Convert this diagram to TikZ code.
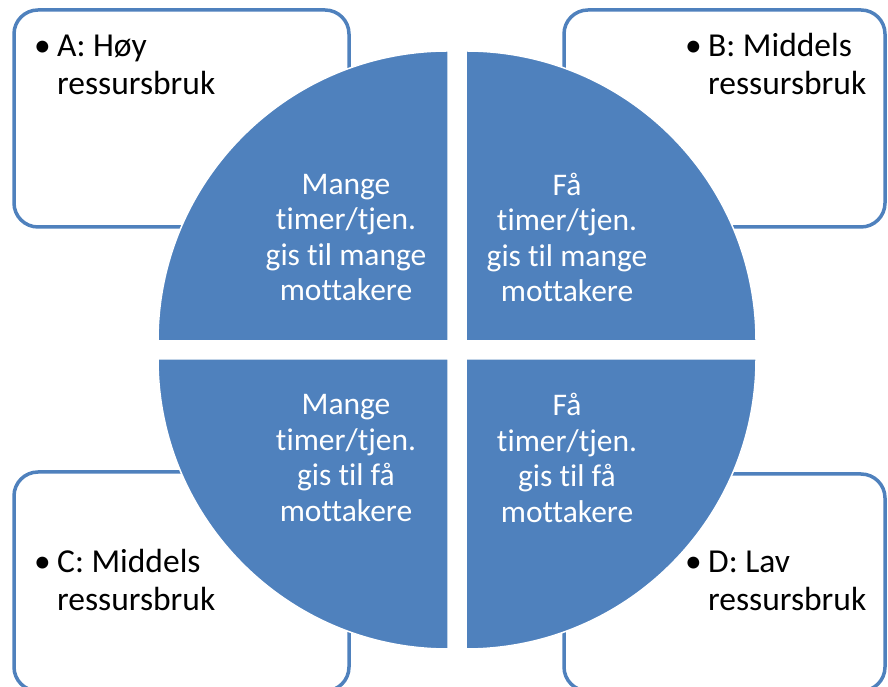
\documentclass[tikz,border=0pt]{standalone}
\usepackage{fontspec}
\setmainfont{Carlito}[Ligatures=NoCommon]
\definecolor{quadblue}{HTML}{4F81BD}
\tikzset{
    quad/.style={fill=quadblue, draw=white, line width=1.5pt},
    infobox/.style={draw=quadblue, line width=3.5pt, rounded corners=24pt, fill=white},
    quadtext/.style={text=white, align=center, inner sep=0pt, font=\fontsize{31.5}{35.5}\selectfont},
    boxtext/.style={anchor=base west, inner sep=0pt, font=\fontsize{33.5}{38}\selectfont}
}
\newcommand{\bulletline}[2]{\begin{tabular}[t]{@{}l@{}l@{}}\makebox[23pt][l]{\textbullet} & #1\\ & #2\end{tabular}}
\begin{document}
\begin{tikzpicture}[x=1pt, y=1pt]
        \useasboundingbox (0, 0) rectangle (888, 687);
        \clip (0, 0) rectangle (888, 687);

        % corner boxes
        \draw[infobox] (14, 677) rectangle (349, 460);
        \draw[infobox] (564, 677) rectangle (885, 460);
        \draw[infobox] (14, 215) rectangle (349, -4);
        \draw[infobox] (564, 213) rectangle (885, -4);

        \node[boxtext] at (34, 630)  (txtA)    {\bulletline{A: Høy}{ressursbruk}};
        \node[boxtext] at (685, 630) (txtB)    {\bulletline{B: Middels}{ressursbruk}};
        \node[boxtext] at (34, 114)  (txtC)    {\bulletline{C: Middels}{ressursbruk}};
        \node[boxtext] at (685, 114) (txtD)    {\bulletline{D: Lav}{ressursbruk}};

        % circle in four parts
        \draw[quad] (448, 346) -- ++(180:290) arc[start angle=180, end angle=90, radius=290] -- cycle;
        \draw[quad] (466, 346) -- ++(90:290) arc[start angle=90, end angle=0, radius=290] -- cycle;
        \draw[quad] (448, 328) -- ++(270:290) arc[start angle=270, end angle=180, radius=290] -- cycle;
        \draw[quad] (466, 328) -- ++(0:290) arc[start angle=0, end angle=-90, radius=290] -- cycle;

        \node[quadtext] at (346, 449.5) (q1) {Mange\\timer/tjen.\\gis til mange\\mottakere};
        \node[quadtext] at (567, 449.5) (q2) {Få\\timer/tjen.\\gis til mange\\mottakere};
        \node[quadtext] at (346, 229)   (q3) {Mange\\timer/tjen.\\gis til få\\mottakere};
        \node[quadtext] at (567, 229)   (q4) {Få\\timer/tjen.\\gis til få\\mottakere};

    \end{tikzpicture}
\end{document}
